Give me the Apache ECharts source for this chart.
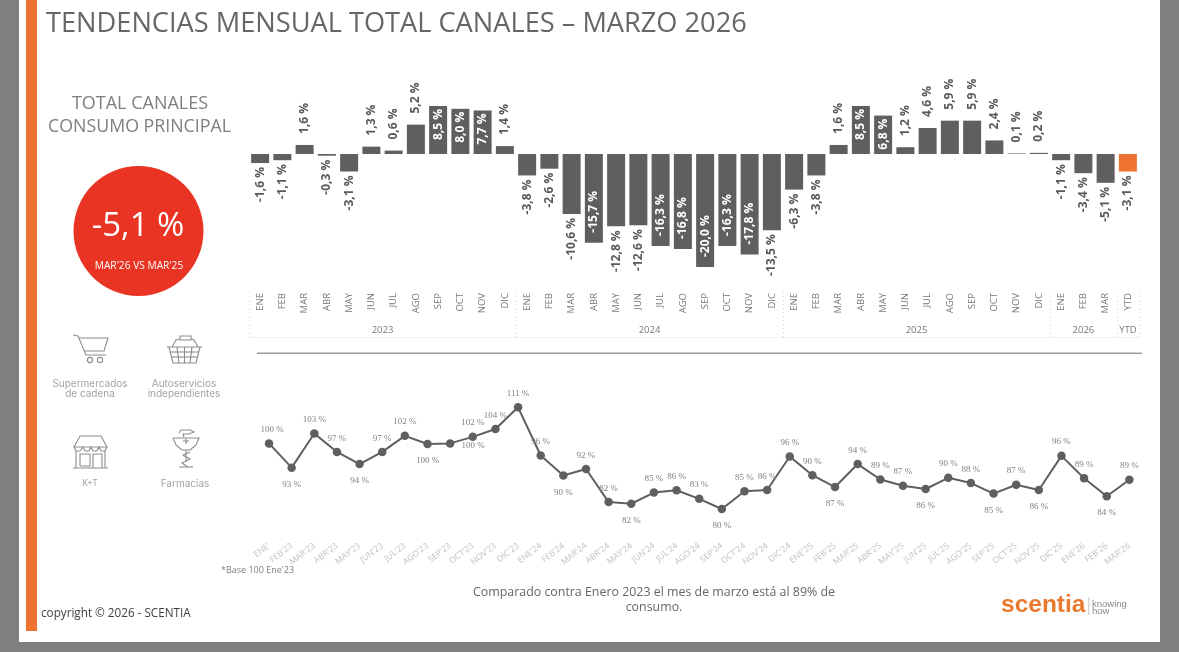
<!DOCTYPE html>
<html>
<head>
<meta charset="utf-8">
<style>html,body{margin:0;padding:0;background:#808080}#main{width:1179px;height:652px}</style>
<script src="https://cdn.jsdelivr.net/npm/echarts@6/dist/echarts.min.js"></script>
</head>
<body>
<div id="main"></div>
<script>
var barMonths = ['ENE','FEB','MAR','ABR','MAY','JUN','JUL','AGO','SEP','OCT','NOV','DIC',
  'ENE','FEB','MAR','ABR','MAY','JUN','JUL','AGO','SEP','OCT','NOV','DIC',
  'ENE','FEB','MAR','ABR','MAY','JUN','JUL','AGO','SEP','OCT','NOV','DIC',
  'ENE','FEB','MAR','YTD'];
var barValues = [-1.6,-1.1,1.6,-0.3,-3.1,1.3,0.6,5.2,8.5,8.0,7.7,1.4,
  -3.8,-2.6,-10.6,-15.7,-12.8,-12.6,-16.3,-16.8,-20.0,-16.3,-17.8,-13.5,
  -6.3,-3.8,1.6,8.5,6.8,1.2,4.6,5.9,5.9,2.4,0.1,0.2,
  -1.1,-3.4,-5.1,-3.1];
var labelsInBar = [8,9,10,15,18,19,20,21,22,27,28];
var yearNames = ['2023','2024','2025','2026','YTD'];
var yearCenters = [6,18,30,37.5,39.5];
var yearEdges = [0,12,24,36,39,40];

var lineMonths = ["ENE'","FEB'23","MAR'23","ABR'23","MAY'23","JUN'23","JUL'23","AGO'23","SEP'23","OCT'23","NOV'23","DIC'23",
  "ENE'24","FEB'24","MAR'24","ABR'24","MAY'24","JUN'24","JUL'24","AGO'24","SEP'24","OCT'24","NOV'24","DIC'24",
  "ENE'25","FEB'25","MAR'25","ABR'25","MAY'25","JUN'25","JUL'25","AGO'25","SEP'25","OCT'25","NOV'25","DIC'25",
  "ENE'26","FEB'26","MAR'26"];
var lineValues = [100,92.6,103,97.4,93.7,97.4,102.3,99.8,100,102,104.4,111,
  96.3,90.2,92.2,82.1,81.6,85,85.7,83.1,80,85.4,85.8,96,
  90.3,86.7,93.7,89,87.1,86.1,89.5,87.9,84.7,87.4,85.8,96.2,
  89.4,83.9,88.9];
var labelsBelow = [1,4,7,13,16,20,25,29,32,34,37];

var GREY = '#5f5f5f', ICON = '#8c8c8c', ORANGE = '#ee7230';
var FONT = '"Open Sans", sans-serif';

/*barras*/
var barData = barValues.map(function(v, i){
  var inside = labelsInBar.indexOf(i) >= 0;
  var pos, align, dist;
  if (inside) {
    pos = v > 0 ? 'insideTop' : 'insideBottom';
    align = v > 0 ? 'right' : 'left';
    dist = v > 0 ? 3 : 10;
  } else {
    pos = v > 0 ? 'top' : 'bottom';
    align = v > 0 ? 'left' : 'right';
    dist = v > 0 ? 11 : 4;
  }
  return {
    value: v,
    itemStyle: {color: i == barValues.length - 1 ? ORANGE : GREY},
    label: {position: pos, align: align, distance: dist, color: inside ? '#fff' : '#5a5a5a'}
  };
});

/*linea*/
var lineData = lineValues.map(function(v, i){
  var below = labelsBelow.indexOf(i) >= 0;
  var d = {value: v, label: {position: below ? 'bottom' : 'top', distance: below ? 8 : 5}};
  if (i == 0) d.label.offset = [3, 0];
  if (i == 8) d.label = {position: 'bottom', distance: 8, offset: [23, -15]};
  return d;
});

function txt(x, y, s, size, color, align, extra){
  var style = {x: x, y: y, text: s, fontSize: size, fill: color, align: align || 'left', verticalAlign: 'middle', fontFamily: FONT};
  for (var k in (extra || {})) style[k] = extra[k];
  return {type: 'text', silent: true, style: style};
}
function rect(x, y, w, h, fill){
  return {type: 'rect', silent: true, shape: {x: x, y: y, width: w, height: h}, style: {fill: fill}};
}
function pl(points){
  return {type: 'polyline', silent: true, shape: {points: points}, style: {stroke: ICON, fill: null, lineWidth: 1.1}};
}
function circ(x, y, r, fill){
  return {type: 'circle', silent: true, shape: {cx: x, cy: y, r: r}, style: fill ? {fill: fill} : {stroke: ICON, fill: null, lineWidth: 1.1}};
}
var ICON_TXT = {fontFamily: 'Inter, sans-serif'};
var LOGO_TXT = {fontFamily: '"Liberation Sans", sans-serif'};

var graphics = [
  rect(19, 0, 1141, 642, '#fff'),
  rect(26, 0, 11, 631, ORANGE),
  txt(46, 24, 'TENDENCIAS MENSUAL TOTAL CANALES – MARZO 2026', 27.2, '#666'),
  txt(140, 104, 'TOTAL CANALES', 18, '#7f7f7f', 'center'),
  txt(139.5, 127, 'CONSUMO PRINCIPAL', 17.8, '#7f7f7f', 'center'),
  circ(138.5, 231, 65, '#e93323'),
  txt(138, 227, '-5,1 %', 33, '#fff', 'center'),
  txt(139, 266, "MAR'26 VS MAR'25", 10.2, '#fff', 'center'),
  rect(257, 352.5, 885, 1.5, '#9a9a9a'),

  /*carrito*/
  pl([[73,335],[78,336],[86,355],[106,355]]),
  pl([[79,338],[108,338],[104,351],[84,351]]),
  circ(90, 360, 2.6), circ(100, 360, 2.6),
  /*canasta*/
  pl([[167,347],[202,347]]),
  pl([[169,347],[173,363],[196,363],[200,347]]),
  pl([[172,347],[176,340],[180,339]]), pl([[191,339],[194,340],[198,347]]),
  pl([[180,340],[180,336],[191,336],[191,340],[180,340]]),
  pl([[177,347],[179,363]]), pl([[184.5,347],[184.5,363]]), pl([[192,347],[190,363]]),
  pl([[170,352],[199,352]]), pl([[171,357],[198,357]]),
  /*tienda*/
  pl([[80,436],[101,436],[107,447],[74,447],[80,436]]),
  pl([[74,447],[76,451],[80,451],[83,447],[85,451],[89,451],[91,447],[93,451],[97,451],[99,447],[101,451],[105,451],[107,447]]),
  pl([[76,451],[76,468]]), pl([[105,451],[105,468]]), pl([[73,468],[108,468]]),
  pl([[80,466],[80,454],[90,454],[90,466],[80,466]]),
  pl([[93,468],[93,454],[102,454],[102,468]]),
  /*farmacia*/
  pl([[173,438],[199,438],[196,445],[190,450],[182,450],[176,445],[173,438]]),
  pl([[186,450],[186,462]]),
  pl([[179,433],[181,430],[190,430],[194,432],[189,434],[183,434],[184,437]]),
  pl([[183,441],[189,441]]), pl([[186,438.5],[186,444]]),
  pl([[190,452],[183,455],[190,459],[182,463],[188,467]]),
  pl([[179,467],[193,467]]),

  txt(90, 383.5, 'Supermercados', 10, '#a3a3a3', 'center', ICON_TXT),
  txt(90, 393.5, 'de cadena', 10, '#a3a3a3', 'center', ICON_TXT),
  txt(184, 383.5, 'Autoservicios', 10, '#a3a3a3', 'center', ICON_TXT),
  txt(184, 393.5, 'independientes', 10, '#a3a3a3', 'center', ICON_TXT),
  txt(90, 483.5, 'K+T', 8.5, '#a3a3a3', 'center', ICON_TXT),
  txt(185, 483.5, 'Farmacias', 10, '#a3a3a3', 'center', ICON_TXT),

  txt(221, 570.5, "*Base 100 Ene'23", 9, '#808080'),
  txt(654, 592.5, 'Comparado contra Enero 2023 el mes de marzo está al 89% de', 12.4, '#666', 'center'),
  txt(654, 607.5, 'consumo.', 12.4, '#666', 'center'),
  txt(41, 613.5, 'copyright © 2026 - SCENTIA', 11.7, '#404040'),
  txt(1001, 605, 'scentia', 24.5, '#e8792f', 'left', {fontFamily: LOGO_TXT.fontFamily, fontWeight: 'bold'}),
  rect(1088.5, 597, 0.8, 18, '#b5b5b5'),
  txt(1092, 604, 'knowing', 9.5, '#8a8a8a', 'left', LOGO_TXT),
  txt(1092, 611.5, 'how', 9.5, '#8a8a8a', 'left', LOGO_TXT)
];

var myChart = echarts.init(document.getElementById('main'));
var option = {
  backgroundColor: '#808080',
  animation: false,
  textStyle: {fontFamily: FONT},
  graphic: graphics,
  grid: [
    {left: 249, width: 890, top: 97.5, height: 169.5},
    {left: 257.7, width: 883, top: 394.2, height: 147.6}
  ],
  xAxis: [
    {
      type: 'category', gridIndex: 0, data: barMonths, position: 'bottom',
      axisLine: {show: false, onZero: false}, axisTick: {show: false},
      axisLabel: {interval: 0, rotate: 90, fontSize: 9.5, color: '#777', margin: 26}
    },
    {
      type: 'value', gridIndex: 0, min: 0, max: 40, position: 'bottom', offset: 70,
      splitLine: {show: false},
      axisLine: {show: true, onZero: false, lineStyle: {color: '#eeeeee', type: 'dotted'}},
      axisTick: {show: true, inside: true, length: 47, customValues: yearEdges, lineStyle: {color: '#d4d4d4', type: [1, 3]}},
      axisLabel: {
        inside: true, margin: 2, fontSize: 9.5, color: '#777', showMinLabel: true, showMaxLabel: true,
        customValues: yearCenters,
        formatter: function(v){ return yearNames[yearCenters.indexOf(v)]; }
      }
    },
    {
      type: 'category', gridIndex: 1, data: lineMonths,
      axisLine: {show: false}, axisTick: {show: false},
      axisLabel: {interval: 0, rotate: 38, fontSize: 8.5, color: '#c0c0c0', margin: 3}
    }
  ],
  yAxis: [
    {type: 'value', gridIndex: 0, min: -20, max: 10, show: false},
    {type: 'value', gridIndex: 1, min: 70, max: 115, show: false}
  ],
  series: [
    {
      type: 'bar', xAxisIndex: 0, yAxisIndex: 0, data: barData, barWidth: 18,
      label: {
        show: true, rotate: 90, verticalAlign: 'middle', fontSize: 12, fontWeight: 'bold',
        formatter: function(p){ return p.value.toFixed(1).replace('.', ',') + ' %'; }
      }
    },
    {
      type: 'line', xAxisIndex: 2, yAxisIndex: 1, data: lineData,
      symbol: 'circle', symbolSize: 8.5,
      itemStyle: {color: GREY}, lineStyle: {color: GREY, width: 2},
      label: {
        show: true, fontFamily: '"Liberation Serif", serif', fontSize: 9, color: '#808080',
        formatter: function(p){ return Math.round(p.value) + ' %'; }
      }
    }
  ]
};
myChart.setOption(option);
</script>
</body>
</html>
